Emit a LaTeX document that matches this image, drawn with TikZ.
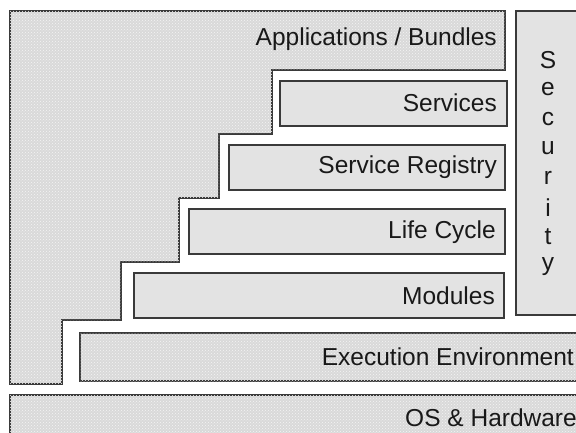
\documentclass[tikz,border=0pt]{standalone}
\usepackage{fontspec}
\setmainfont{Liberation Sans}
\usetikzlibrary{patterns}
\definecolor{edge}{HTML}{3A3A3A}
\definecolor{plain}{HTML}{E3E3E3}
\definecolor{dotted}{HTML}{D9D9D9}
\tikzset{
  layer/.style={draw=edge,line width=1.3pt,fill=plain},
  rough/.style={draw=edge,line width=1.3pt,fill=dotted,postaction={pattern=crosshatch dots,pattern color=white!70!dotted}},
  tag/.style={anchor=east,font=\fontsize{24.5}{28}\selectfont,inner sep=0pt,text=black!90},
  letter/.style={font=\fontsize{24.5}{28}\selectfont,inner sep=0pt,text=black!90}
}

\begin{document}
\begin{tikzpicture}[x=1pt,y=-1pt]
    \useasboundingbox (0,0) rectangle (576,433);
    \clip (0,0) rectangle (576,433);

    % applications shape with the stair steps
    \draw[rough] (10,11) -- (505,11) -- (505,70) -- (272,70) -- (272,134) -- (219,134)
      -- (219,198) -- (179,198) -- (179,262) -- (121,262) -- (121,320) -- (62,320)
      -- (62,384) -- (10,384) -- cycle;
    \node[tag] (apps) at (497,39) {Applications / Bundles};

    % framework layers
    \draw[layer] (280,81) rectangle (507,126);
    \node[tag] (services) at (497,103) {Services};
    \draw[layer] (229,145) rectangle (505,190);
    \node[tag] (registry) at (497,167) {Service Registry};
    \draw[layer] (189,209) rectangle (505,254);
    \node[tag] (lifecycle) at (496,232) {Life Cycle};
    \draw[layer] (134,273) rectangle (504,318);
    \node[tag] (modules) at (495,296) {Modules};

    \draw[rough] (80,333) rectangle (600,381);
    \node[tag] (exec) at (574,357) {Execution Environment};
    \draw[rough] (10,395) rectangle (600,450);
    \node[tag] (os) at (577,418) {OS \& Hardware};

    % security column
    \draw[layer] (516,11) rectangle (600,315);
    \foreach \ch [count=\i from 0] in {S,e,c,u,r,i,t,y}
      \node[letter] (sec\i) at (548,60+29.5*\i) {\ch};
  \end{tikzpicture}
\end{document}
